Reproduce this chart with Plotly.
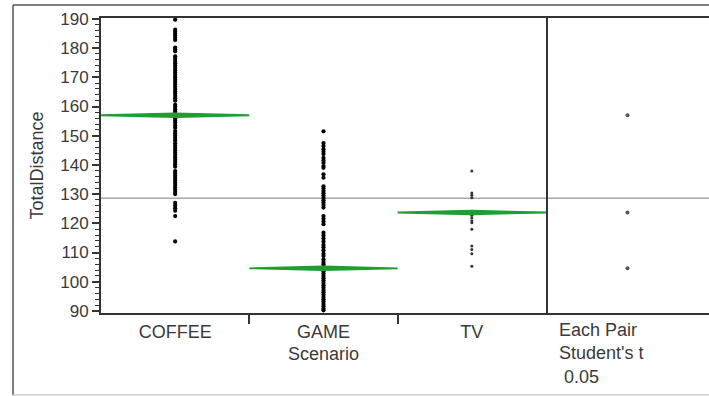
import plotly.graph_objects as go

categories = ["COFFEE", "GAME", "TV"]
axis_title_x = "Scenario"
axis_title_y = "TotalDistance"
compare_label = "Each Pair<br>Student's t<br> 0.05"

coffee = [189.7, 186.3, 185.6, 184.9, 184.3, 183.5, 182.8, 180.2, 179.6, 178.9,
          177.2, 176.4, 175.6, 174.8, 174.0, 173.2, 172.4, 171.6, 170.8, 170.0,
          169.2, 168.4, 167.6, 166.8, 166.0, 165.2, 164.4, 163.6, 162.8, 162.0,
          160.6, 159.9, 159.1, 158.3, 157.5, 156.8, 156.0, 155.2, 154.4, 153.5, 152.7,
          151.6, 150.8, 150.0, 149.2, 148.4, 147.4, 146.6, 145.8, 145.0, 144.2, 143.4,
          142.6, 141.8, 141.0, 140.2, 139.4,
          137.9, 137.1, 136.3, 135.5, 134.7, 133.9, 133.1, 132.3, 131.5, 130.7, 130.0,
          127.0, 126.1, 125.2, 124.3, 122.5, 113.8]
game = [151.5, 147.5, 146.5, 145.4, 144.5, 143.7, 142.4, 141.5, 140.7, 139.6, 139.0,
        136.8, 135.6,
        132.7, 131.9, 131.1, 130.3, 129.5, 128.7, 127.9, 127.1, 126.3, 125.4,
        122.5, 121.6, 120.6, 119.7, 116.8, 115.8, 114.8, 113.8, 112.6, 111.8, 110.8,
        109.6, 108.8, 107.6, 106.8, 106.0, 105.2, 104.4, 103.6, 102.8, 102.0, 101.2,
        100.4, 99.6, 98.8, 98.0, 97.2, 96.4, 95.6, 94.8, 94.0, 93.2, 92.4, 91.6,
        90.8, 90.2]
tv = [137.9, 130.4, 129.6, 128.8, 123.7, 122.8, 121.9, 120.9, 120.2, 118.0,
      112.2, 111.0, 109.6, 105.3]
group_means = [157.0, 104.6, 123.7]
ci_half = [0.65, 0.65, 0.6]
grand_mean = 128.6

groups = [coffee, game, tv]
green = "#1f9e33"
dark = "#3a3a3a"

fig = go.Figure()

# data points
for i, vals in enumerate(groups):
    fig.add_trace(go.Scatter(
        x=[i] * len(vals), y=vals, mode="markers",
        marker=dict(size=4.2 if i < 2 else 3, color="black" if i < 2 else "#333333",
                    line=dict(width=0)),
        hoverinfo="y", showlegend=False, xaxis="x", yaxis="y"))

# means diamonds
for i, (m, h) in enumerate(zip(group_means, ci_half)):
    fig.add_trace(go.Scatter(
        x=[i - 0.5, i, i + 0.5, i, i - 0.5], y=[m, m + h, m, m - h, m],
        mode="lines", fill="toself", fillcolor=green,
        line=dict(color=green, width=1.8), hoverinfo="skip", showlegend=False,
        xaxis="x", yaxis="y"))

# comparison panel points
fig.add_trace(go.Scatter(
    x=[0.5] * len(group_means), y=group_means, mode="markers",
    marker=dict(size=4, color="#555555"), showlegend=False,
    xaxis="x2", yaxis="y2"))

split = (546 - 101) / 608

fig.update_layout(
    width=709, height=396,
    margin=dict(l=101, r=0, t=18, b=83),
    paper_bgcolor="white", plot_bgcolor="white",
    font=dict(family="Liberation Sans, Arial, sans-serif", color=dark),
    xaxis=dict(domain=[0, split], range=[-0.5, 2.5],
               tickvals=[0, 1, 2], ticktext=categories, ticks="",
               tickfont=dict(size=18, color=dark),
               ticklabelstandoff=1,
               minor=dict(tickvals=[0.5, 1.5], ticks="outside", ticklen=9,
                          tickwidth=1.5, tickcolor="#333333"),
               showline=True, linecolor="#333333", linewidth=2, mirror=True,
               showgrid=False, zeroline=False,
               title=dict(text=axis_title_x, font=dict(size=18, color=dark), standoff=7)),
    xaxis2=dict(domain=[split, 1], range=[0, 1], showticklabels=False, ticks="",
                showline=True, linecolor="#333333", linewidth=2, mirror=True,
                showgrid=False, zeroline=False),
    yaxis=dict(range=[89.3, 190.3], dtick=10, tick0=90, ticks="outside",
               ticklen=7, tickwidth=1.5, tickcolor="#333333",
               tickfont=dict(size=17, color=dark),
               minor=dict(dtick=2, ticks="outside", ticklen=4, tickwidth=1,
                          tickcolor="#333333"),
               showline=True, linecolor="#333333", linewidth=2, mirror=True,
               showgrid=False, zeroline=False,
               title=dict(text=axis_title_y, font=dict(size=18, color=dark), standoff=12)),
    yaxis2=dict(anchor="x2", matches="y", showticklabels=False, ticks="",
                showline=False, showgrid=False, zeroline=False),
    shapes=[
        dict(type="line", xref="paper", yref="y", x0=0, x1=1,
             y0=grand_mean, y1=grand_mean, line=dict(color="#a8a8a8", width=1.5),
             layer="below"),
        dict(type="line", xref="paper", yref="paper", x0=-0.1447, x1=-0.1447,
             y0=-0.278, y1=1.044, line=dict(color="#555555", width=1.5)),
        dict(type="line", xref="paper", yref="paper", x0=-0.1447, x1=1.02,
             y0=1.044, y1=1.044, line=dict(color="#555555", width=1.5)),
        dict(type="line", xref="paper", yref="paper", x0=-0.1447, x1=1.02,
             y0=-0.278, y1=-0.278, line=dict(color="#cccccc", width=1.5)),
    ],
    annotations=[
        dict(text=compare_label, xref="paper", yref="paper",
             x=(557 - 101) / 608, y=(313 - 318) / 295, xanchor="left", yanchor="top",
             align="left", showarrow=False, font=dict(size=18, color=dark)),
    ],
)

fig.write_html("out.html", config={"displayModeBar": False},
               post_script="document.body.style.margin='0px';")
